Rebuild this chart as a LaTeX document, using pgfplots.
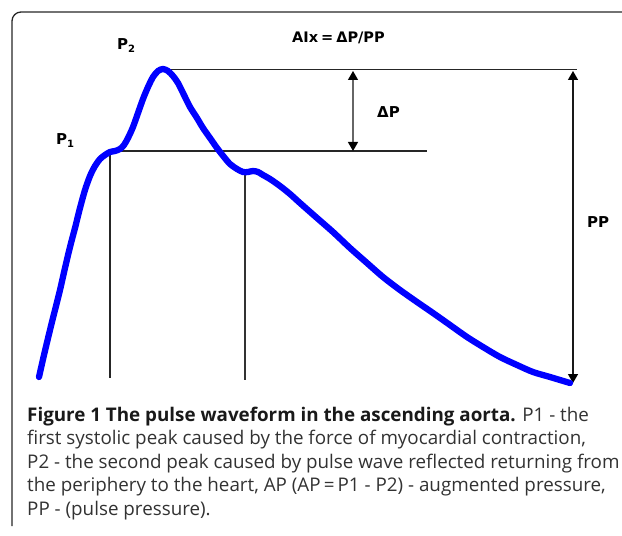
\documentclass[border=0pt]{standalone}
\usepackage{pgfplots}
\pgfplotsset{compat=1.18}
\usepackage{fontspec}
\setmainfont{Open Sans}
\newfontfamily\lbl{DejaVu Sans}
\usetikzlibrary{arrows.meta}
\definecolor{wave}{RGB}{0,0,255}
\definecolor{capgray}{RGB}{50,50,50}
\begin{document}
\begin{tikzpicture}
\begin{axis}[
  name=ax,
  x=1bp, y=1bp,
  xmin=0, xmax=622, ymin=0, ymax=536,
  y dir=reverse,
  hide axis,
  clip=true,
]
% frame
\draw[line width=1.3bp, black!85, rounded corners=9bp] (12,526) -- (12,12) -- (640,12);
% helper lines
\draw[line width=1.2bp, black!85] (163,69.5) -- (577,69.5);
\draw[line width=1.2bp, black!85] (110,151) -- (427,151);
\draw[line width=1.2bp, black!85] (110,151) -- (110,378);
\draw[line width=1.2bp, black!80] (245,171) -- (245,380);
% arrows
\draw[line width=1.2bp, black!60, {Triangle[width=10bp,length=9bp,black]}-{Triangle[width=10bp,length=9bp,black]}] (353,71) -- (353,151);
\draw[line width=1.3bp, black!90, {Triangle[width=10bp,length=9bp,black]}-{Triangle[width=10bp,length=9bp,black]}] (573,71) -- (573,383);
% waveform
\addplot[wave, line width=6.3bp, smooth, line cap=round, line join=round] table {
x y
39 377
44 355
50 330
55 310
60 290
65 268
70 247
75 228
80 208
85 190
90 176
95 166
100 159
105 155
110 152
115 151
120 149
124 145
128 138
133 127
138 113
143 99
148 87
153 77
158 71
163 69
168 71
173 76
178 83
184 95
190 107
197 118
203 128
210 138
217 148
224 157
230 164
237 169
243 172
248 172
253 171
258 172
263 175
270 179
280 186
290 194
300 203
317 218
333 232
350 248
367 263
383 277
400 290
417 302
433 313
450 325
467 337
483 347
500 357
517 365
533 372
550 377
570 383
};
% labels
\node[anchor=base west, inner sep=0pt, font=\lbl\bfseries\fontsize{15bp}{18bp}\selectfont] at (117,50) {P\raisebox{-3bp}{\fontsize{10bp}{12bp}\selectfont 2}};
\node[anchor=base west, inner sep=0pt, font=\lbl\bfseries\fontsize{15bp}{18bp}\selectfont] at (56,145) {P\raisebox{-3bp}{\fontsize{10bp}{12bp}\selectfont 1}};
\node[anchor=base west, inner sep=0pt, font=\lbl\bfseries\fontsize{14.5bp}{18bp}\selectfont] at (292,43) {AIx\hspace{3bp}=\hspace{3bp}ΔP/PP};
\node[anchor=base west, inner sep=0pt, font=\lbl\bfseries\fontsize{15bp}{18bp}\selectfont] at (377,118) {ΔP};
\node[anchor=base west, inner sep=0pt, font=\lbl\bfseries\fontsize{15bp}{18bp}\selectfont] at (587,228) {PP};
% caption
\begin{scope}[every node/.style={anchor=base west, inner sep=0pt, text=capgray, font=\fontsize{18.8bp}{22bp}\selectfont}]
\node at (27,421) {\textbf{\color{black!90}Figure 1 The pulse waveform in the ascending aorta.} P1 - the};
\node at (27,444.5) {first systolic peak caused by the force of myocardial contraction,};
\node at (27,468) {P2 - the second peak caused by pulse wave reflected returning from};
\node at (27,491.5) {the periphery to the heart, AP (AP\,=\,P1 - P2) - augmented pressure,};
\node at (27,515) {PP - (pulse pressure).};
\end{scope}
\end{axis}
\pgfresetboundingbox
\path[use as bounding box] (ax.south west) rectangle (ax.north east);
\end{tikzpicture}
\end{document}
